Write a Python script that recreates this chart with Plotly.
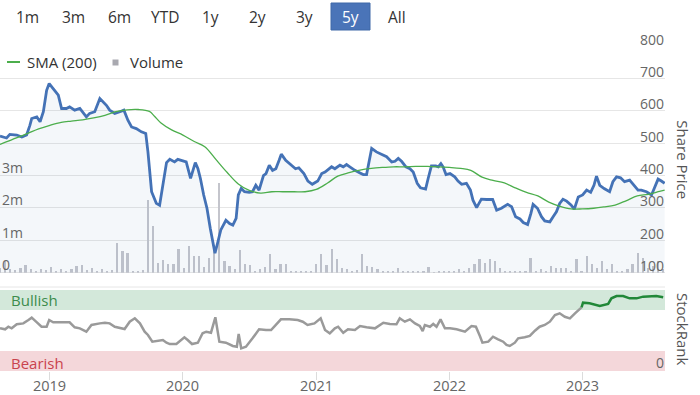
import plotly.graph_objects as go
import pandas as pd

# ---------------- DATA ----------------
price_dates = [
    "2018-08-17", "2018-09-04", "2018-09-13", "2018-10-02", "2018-10-16", "2018-10-29", "2018-11-07",
    "2018-11-12", "2018-11-26", "2018-12-05", "2018-12-14", "2018-12-23", "2018-12-30", "2019-01-10",
    "2019-01-24", "2019-02-02", "2019-02-15", "2019-02-24", "2019-03-10", "2019-03-24", "2019-04-02",
    "2019-04-11", "2019-04-20", "2019-05-04", "2019-05-18", "2019-05-27", "2019-06-05", "2019-06-14",
    "2019-06-28", "2019-07-12", "2019-07-23", "2019-08-03", "2019-08-13", "2019-08-26", "2019-09-09",
    "2019-09-21", "2019-09-27", "2019-10-07", "2019-10-20", "2019-10-29", "2019-11-07", "2019-11-17",
    "2019-11-26", "2019-12-09", "2019-12-18", "2020-01-01", "2020-01-10", "2020-01-22", "2020-01-28",
    "2020-02-04", "2020-02-11", "2020-02-18", "2020-02-27", "2020-03-07", "2020-03-16", "2020-03-29",
    "2020-04-05", "2020-04-14", "2020-04-28", "2020-05-08", "2020-05-17", "2020-05-26", "2020-06-01",
    "2020-06-09", "2020-06-18", "2020-07-01", "2020-07-10", "2020-07-19", "2020-07-28", "2020-08-09",
    "2020-08-16", "2020-08-25", "2020-09-03", "2020-09-12", "2020-09-21", "2020-09-27", "2020-10-09",
    "2020-10-23", "2020-11-05", "2020-11-14", "2020-11-28", "2020-12-09", "2020-12-21", "2021-01-05",
    "2021-01-16", "2021-01-25", "2021-02-03", "2021-02-12", "2021-02-21", "2021-03-07", "2021-03-16",
    "2021-03-25", "2021-04-03", "2021-04-17", "2021-05-01", "2021-05-10", "2021-05-19", "2021-06-02",
    "2021-06-15", "2021-06-29", "2021-07-13", "2021-07-27", "2021-08-05", "2021-08-14", "2021-08-23",
    "2021-09-04", "2021-09-15", "2021-09-24", "2021-10-05", "2021-10-14", "2021-10-28", "2021-11-04",
    "2021-11-13", "2021-11-25", "2021-12-02", "2021-12-09", "2021-12-15", "2021-12-23", "2022-01-03",
    "2022-01-16", "2022-01-25", "2022-02-04", "2022-02-17", "2022-02-28", "2022-03-07", "2022-03-17",
    "2022-03-30", "2022-04-13", "2022-04-30", "2022-05-11", "2022-05-24", "2022-06-10", "2022-06-21",
    "2022-07-02", "2022-07-14", "2022-07-23", "2022-08-04", "2022-08-13", "2022-08-19", "2022-08-31",
    "2022-09-11", "2022-09-20", "2022-10-04", "2022-10-13", "2022-10-22", "2022-10-31", "2022-11-09",
    "2022-11-19", "2022-12-01", "2022-12-10", "2022-12-21", "2023-01-02", "2023-01-13", "2023-01-24",
    "2023-02-02", "2023-02-09", "2023-02-18", "2023-03-02", "2023-03-11", "2023-03-17", "2023-03-26",
    "2023-04-05", "2023-04-16", "2023-04-27", "2023-05-11", "2023-05-23", "2023-06-03", "2023-06-12",
    "2023-06-26", "2023-07-10", "2023-07-19", "2023-07-28", "2023-08-06", "2023-08-15",
]
price_values = [
    522, 516, 527, 525, 519, 525, 555,
    576, 581, 566, 597, 663, 684, 669,
    648, 607, 607, 612, 602, 607, 592,
    581, 592, 597, 638, 627, 617, 602,
    592, 597, 602, 571, 550, 545, 535,
    530, 473, 350, 314, 308, 370, 440,
    450, 442, 450, 444, 442, 391, 411,
    440, 422, 391, 340, 299, 237, 160,
    191, 232, 262, 252, 247, 268, 340,
    360, 350, 348, 350, 370, 355, 400,
    406, 432, 416, 421, 447, 466, 447,
    434, 421, 424, 406, 383, 373, 383,
    406, 411, 420, 427, 421, 432, 427,
    434, 427, 416, 408, 403, 403, 484,
    473, 465, 458, 442, 444, 453, 444,
    427, 421, 411, 376, 362, 358, 391,
    430, 430, 427, 437, 427, 403, 406,
    396, 383, 373, 376, 355, 324, 301,
    327, 326, 326, 293, 299, 311, 304,
    273, 266, 255, 249, 283, 311, 299,
    273, 260, 257, 273, 288, 314, 327,
    321, 309, 296, 334, 340, 355, 348,
    370, 398, 370, 360, 355, 350, 381,
    396, 393, 381, 386, 370, 355, 355,
    350, 340, 365, 389, 383, 376,
]

sma_dates = [
    "2018-08-17", "2018-09-01", "2018-10-01", "2018-11-01", "2018-12-01", "2019-01-01", "2019-02-01",
    "2019-03-01", "2019-04-01", "2019-05-01", "2019-06-01", "2019-07-01", "2019-08-01", "2019-09-01",
    "2019-10-01", "2019-10-15", "2019-11-01", "2019-12-01", "2020-01-01", "2020-02-01", "2020-03-01",
    "2020-04-01", "2020-05-01", "2020-06-01", "2020-07-01", "2020-08-01", "2020-09-01", "2020-10-01",
    "2020-11-01", "2020-12-01", "2021-01-01", "2021-02-01", "2021-03-01", "2021-04-01", "2021-05-01",
    "2021-06-01", "2021-07-01", "2021-08-01", "2021-09-01", "2021-10-01", "2021-11-01", "2021-12-01",
    "2022-01-01", "2022-02-01", "2022-03-01", "2022-04-01", "2022-05-01", "2022-06-01", "2022-07-01",
    "2022-08-01", "2022-09-01", "2022-10-01", "2022-11-01", "2022-12-01", "2023-01-01", "2023-02-01",
    "2023-03-01", "2023-04-01", "2023-05-01", "2023-06-01", "2023-07-01", "2023-08-01", "2023-08-15",
]
sma_values = [
    496, 503, 516, 530, 544, 555, 564,
    568, 572, 578, 586, 597, 603, 604,
    598, 583, 563, 541, 525, 505, 489,
    449, 410, 374, 354, 346, 350, 350,
    350, 350, 357, 377, 398, 409, 417,
    422, 425, 427, 427, 428, 428, 427,
    425, 422, 416, 395, 385, 377, 362,
    348, 337, 318, 305, 297, 297, 299,
    303, 309, 322, 337, 342, 351, 355,
]

# volume in millions of shares, one bar per two-week period starting at volume_start
volume_start = "2018-08-17"
volume_values = [
    0.15, 0.36, 0.10, 0.08, 0.15, 0.23, 0.10, 0.06, 0.10, 0.08,
    0.18, 0.06, 0.12, 0.05, 0.10, 0.20, 0.24, 0.08, 0.15, 0.06,
    0.12, 0.05, 0.08, 0.93, 0.67, 0.62, 0.05, 0.06, 0.08, 2.24,
    1.44, 0.30, 0.38, 0.26, 0.26, 0.72, 0.15, 0.84, 0.51, 0.53,
    0.18, 0.46, 0.72, 2.78, 0.36, 0.20, 0.12, 0.70, 0.26, 0.23,
    0.05, 0.12, 0.18, 0.57, 0.10, 0.26, 0.26, 0.05, 0.05, 0.04,
    0.05, 0.05, 0.26, 0.57, 0.23, 0.72, 0.41, 0.13, 0.10, 0.05,
    0.07, 0.57, 0.20, 0.18, 0.10, 0.05, 0.03, 0.04, 0.15, 0.05,
    0.04, 0.05, 0.06, 0.05, 0.18, 0.02, 0.03, 0.04, 0.05, 0.03,
    0.10, 0.03, 0.15, 0.26, 0.41, 0.31, 0.41, 0.36, 0.15, 0.05,
    0.03, 0.03, 0.04, 0.03, 0.46, 0.03, 0.10, 0.05, 0.20, 0.15,
    0.15, 0.15, 0.05, 0.41, 0.05, 0.51, 0.26, 0.15, 0.36, 0.10,
    0.26, 0.05, 0.03, 0.10, 0.26, 0.62, 0.46, 0.15, 0.20, 0.36,
    0.10,
]

rank_dates = [
    "2018-08-17", "2018-08-31", "2018-09-09", "2018-09-18", "2018-10-02", "2018-10-20", "2018-11-03",
    "2018-11-12", "2018-11-24", "2018-12-09", "2018-12-23", "2018-12-30", "2019-01-10", "2019-01-28",
    "2019-02-24", "2019-03-10", "2019-03-24", "2019-04-11", "2019-04-25", "2019-05-18", "2019-06-01",
    "2019-06-14", "2019-06-28", "2019-07-25", "2019-08-08", "2019-08-22", "2019-09-05", "2019-09-18",
    "2019-09-27", "2019-10-09", "2019-10-25", "2019-11-07", "2019-11-17", "2019-11-26", "2019-12-14",
    "2019-12-28", "2020-01-05", "2020-01-14", "2020-01-26", "2020-02-11", "2020-02-24", "2020-03-05",
    "2020-03-18", "2020-03-30", "2020-04-10", "2020-04-28", "2020-05-17", "2020-05-28", "2020-06-02",
    "2020-06-09", "2020-06-22", "2020-07-10", "2020-07-28", "2020-08-16", "2020-08-30", "2020-09-12",
    "2020-09-26", "2020-10-19", "2020-11-11", "2020-11-25", "2020-12-08", "2020-12-27", "2021-01-13",
    "2021-01-25", "2021-02-07", "2021-02-21", "2021-03-02", "2021-03-16", "2021-03-29", "2021-04-17",
    "2021-05-01", "2021-05-19", "2021-06-11", "2021-07-04", "2021-07-22", "2021-08-09", "2021-08-18",
    "2021-09-01", "2021-09-15", "2021-09-29", "2021-10-12", "2021-10-20", "2021-10-26", "2021-11-09",
    "2021-11-18", "2021-11-27", "2021-12-08", "2021-12-20", "2022-01-03", "2022-01-21", "2022-02-13",
    "2022-03-03", "2022-03-15", "2022-03-26", "2022-04-02", "2022-04-18", "2022-05-01", "2022-05-15",
    "2022-05-29", "2022-06-07", "2022-06-16", "2022-06-30", "2022-07-09", "2022-07-27", "2022-08-10",
    "2022-08-24", "2022-09-06", "2022-09-20", "2022-10-04", "2022-10-18", "2022-10-31", "2022-11-14",
    "2022-11-28", "2022-12-12", "2022-12-21", "2022-12-30",
]
rank_values = [
    50.8, 49.6, 52.7, 50.8, 55.6, 56.7, 60.7,
    63.5, 58.7, 52.7, 52.7, 60.7, 58.0, 58.0,
    58.0, 52.0, 50.8, 46.8, 54.8, 56.7, 57.5,
    56.7, 52.7, 50.0, 58.7, 62.7, 56.7, 46.8,
    42.9, 34.9, 35.7, 36.9, 33.7, 32.1, 32.1,
    36.9, 40.1, 36.9, 32.1, 33.7, 44.9, 46.8,
    45.6, 63.9, 34.9, 33.7, 29.8, 28.9, 44.0,
    27.0, 28.9, 38.9, 49.6, 48.8, 48.8, 54.8,
    61.5, 61.5, 60.7, 58.7, 54.8, 56.7, 62.7,
    48.8, 44.9, 50.8, 52.7, 45.6, 49.6, 48.8,
    53.6, 52.0, 50.8, 57.5, 56.0, 55.6, 62.7,
    58.7, 61.5, 56.7, 53.6, 47.6, 54.8, 52.7,
    56.0, 52.7, 61.5, 50.8, 50.8, 49.6, 46.8,
    53.6, 52.7, 41.7, 33.7, 34.9, 40.8, 37.7,
    34.9, 31.0, 29.8, 33.7, 38.9, 40.1, 41.7,
    48.0, 52.7, 54.8, 58.7, 66.7, 68.7, 64.6,
    62.7, 68.7, 72.6, 75.8,
]
rank_bull_dates = [
    "2022-12-30", "2023-01-03", "2023-01-21", "2023-02-18", "2023-03-13", "2023-03-22", "2023-04-05",
    "2023-04-23", "2023-05-11", "2023-05-30", "2023-06-17", "2023-07-05", "2023-07-23", "2023-08-11",
]
rank_bull_values = [
    75.8, 81.3, 80.6, 77.4, 79.8, 86.5, 89.3,
    89.3, 86.5, 86.5, 88.5, 88.5, 89.3, 87.7,
]

bullish_band = [72.6, 96.4]
bearish_band = [0, 23.8]

year_ticks = ["2019-01-01", "2020-01-01", "2021-01-01", "2022-01-01", "2023-01-01"]
year_labels = ["2019", "2020", "2021", "2022", "2023"]
price_ticks = [100, 200, 300, 400, 500, 600, 700, 800]
volume_ticks = [0, 1, 2, 3]
volume_labels = ["0", "1m", "2m", "3m"]
range_buttons = ["1m", "3m", "6m", "YTD", "1y", "2y", "3y", "5y", "All"]
active_button = "5y"
x_range = ["2018-08-17", "2023-08-16"]

# ---------------- LAYOUT HELPERS ----------------
W, H = 700, 395
ML, MR, MT, MB = 0, 35, 46, 24
PW, PH = W - ML - MR, H - MT - MB


def px_x(p):
    return (p - ML) / PW


def px_y(p):
    return (H - MB - p) / PH


main_dom = [px_y(272.7), 1.0]
rank_dom = [0.0, px_y(287)]

FONT = "Open Sans, Noto Sans, sans-serif"
GRID = "#e6e6e6"
LABEL = "#666666"

volume_dates = pd.date_range(volume_start, periods=len(volume_values), freq="14D")

fig = go.Figure()

fig.add_trace(go.Bar(
    x=volume_dates, y=volume_values, width=6 * 86400000,
    marker=dict(color="#c4c5cc", line=dict(width=0)),
    xaxis="x", yaxis="y", showlegend=False,
))
fig.add_trace(go.Scatter(
    x=price_dates, y=price_values, mode="lines",
    line=dict(color="#4472b6", width=2.8),
    fill="tozeroy", fillcolor="rgba(69,114,167,0.06)",
    xaxis="x", yaxis="y2", showlegend=False,
))
fig.add_trace(go.Scatter(
    x=sma_dates, y=sma_values, mode="lines", line_shape="spline",
    line=dict(color="#4cae4c", width=1.3),
    xaxis="x", yaxis="y2", showlegend=False,
))
fig.add_trace(go.Scatter(
    x=rank_dates, y=rank_values, mode="lines",
    line=dict(color="#9a9a9a", width=2.5),
    xaxis="x2", yaxis="y3", showlegend=False,
))
fig.add_trace(go.Scatter(
    x=rank_bull_dates, y=rank_bull_values, mode="lines",
    line=dict(color="#218838", width=2.5),
    xaxis="x2", yaxis="y3", showlegend=False,
))

shapes = [
    dict(type="rect", xref="paper", yref="y3", x0=0, x1=1,
         y0=bullish_band[0], y1=bullish_band[1], fillcolor="#d3e8da", line_width=0, layer="below"),
    dict(type="rect", xref="paper", yref="y3", x0=0, x1=1,
         y0=bearish_band[0], y1=bearish_band[1], fillcolor="#f4d7da", line_width=0, layer="below"),
    dict(type="line", xref="paper", yref="paper", x0=0, x1=1, y0=rank_dom[1], y1=rank_dom[1],
         line=dict(color=GRID, width=1)),
    # legend symbols
    dict(type="line", xref="paper", yref="paper", x0=px_x(7), x1=px_x(20), y0=px_y(62), y1=px_y(62),
         line=dict(color="#4cae4c", width=2)),
    dict(type="rect", xref="paper", yref="paper", x0=px_x(112.5), x1=px_x(118.5),
         y0=px_y(65.5), y1=px_y(59.5), fillcolor="#a9a9b0", line_width=0),
    # active range button
    dict(type="rect", xref="paper", yref="paper", x0=px_x(331), x1=px_x(370),
         y0=px_y(30), y1=px_y(3), fillcolor="#4a74b8", line=dict(color="#3f68a8", width=1)),
]

annotations = []
for v in price_ticks:
    annotations.append(dict(x=1, xref="paper", y=v, yref="y2", xanchor="right", yanchor="middle",
                            yshift=7, xshift=1, text=str(v), showarrow=False,
                            font=dict(family=FONT, size=14, color=LABEL)))
for v, t in zip(volume_ticks, volume_labels):
    annotations.append(dict(x=0, xref="paper", y=v, yref="y", xanchor="left", yanchor="middle",
                            yshift=8, xshift=0, text=t, showarrow=False,
                            font=dict(family=FONT, size=14, color=LABEL)))
annotations.append(dict(x=1, xref="paper", y=0, yref="y3", xanchor="right", yanchor="middle",
                        yshift=9, xshift=1, text="0", showarrow=False,
                        font=dict(family=FONT, size=14, color=LABEL)))
for d, t in zip(year_ticks, year_labels):
    annotations.append(dict(x=d, xref="x2", y=px_y(385.5), yref="paper", xanchor="center",
                            yanchor="middle", text=t, showarrow=False, borderpad=0,
                            font=dict(family=FONT, size=14.5, color=LABEL)))
annotations.append(dict(x=1, xref="paper", y=(main_dom[0] + main_dom[1]) / 2, yref="paper",
                        xshift=18, xanchor="center", yanchor="middle", textangle=90,
                        text="Share Price", showarrow=False,
                        font=dict(family=FONT, size=15, color="#555555")))
annotations.append(dict(x=1, xref="paper", y=(rank_dom[0] + rank_dom[1]) / 2, yref="paper",
                        xshift=18, xanchor="center", yanchor="middle", textangle=90,
                        text="StockRank", showarrow=False,
                        font=dict(family=FONT, size=15, color="#555555")))
annotations.append(dict(x=0, xref="paper", y=sum(bullish_band) / 2, yref="y3", xanchor="left",
                        yanchor="middle", xshift=9, text="Bullish", showarrow=False,
                        font=dict(family=FONT, size=15, color="#3c8c4c")))
annotations.append(dict(x=0, xref="paper", y=sum(bearish_band) / 2, yref="y3", xanchor="left",
                        yanchor="middle", xshift=9, yshift=-2, text="Bearish", showarrow=False,
                        font=dict(family=FONT, size=15, color="#c9434d")))
# legend texts
annotations.append(dict(x=px_x(25), xref="paper", y=px_y(62), yref="paper", xanchor="left",
                        yanchor="middle", text="SMA (200)", showarrow=False,
                        font=dict(family=FONT, size=15, color="#333333")))
annotations.append(dict(x=px_x(128), xref="paper", y=px_y(62), yref="paper", xanchor="left",
                        yanchor="middle", text="Volume", showarrow=False,
                        font=dict(family=FONT, size=15, color="#333333")))
# range selector labels
button_centers = [27.5, 73, 119, 165, 210, 257, 304, 350.5, 397]
for lab, cx in zip(range_buttons, button_centers):
    annotations.append(dict(x=px_x(cx), xref="paper", y=px_y(17), yref="paper", xanchor="center",
                            yanchor="middle", text=lab, showarrow=False,
                            font=dict(family=FONT, size=15.5,
                                      color="#ffffff" if lab == active_button else "#333333")))

fig.update_layout(
    width=W, height=H, autosize=False,
    margin=dict(l=ML, r=MR, t=MT, b=MB, pad=0, autoexpand=False),
    paper_bgcolor="white", plot_bgcolor="white",
    font=dict(family=FONT, size=13, color=LABEL),
    showlegend=False, bargap=0,
    xaxis=dict(domain=[0, 1], anchor="y", range=x_range, showticklabels=False,
               showgrid=False, zeroline=False, ticks="", automargin=False),
    xaxis2=dict(domain=[0, 1], anchor="y3", matches="x", range=x_range,
                tickvals=year_ticks, showticklabels=False, ticks="outside", ticklen=8,
                tickcolor="#dcdcdc", showgrid=False, zeroline=False, showline=False,
                automargin=False),
    yaxis=dict(domain=main_dom, range=[0, 7], dtick=1, showticklabels=False,
               showgrid=True, gridcolor=GRID, gridwidth=1, zeroline=True,
               zerolinecolor=GRID, zerolinewidth=1, ticks="", automargin=False),
    yaxis2=dict(overlaying="y", side="right", range=[100, 800], showticklabels=False,
                showgrid=False, zeroline=False, ticks="", automargin=False),
    yaxis3=dict(domain=rank_dom, anchor="x2", range=[0, 100], showticklabels=False,
                showgrid=False, zeroline=False, ticks="", automargin=False),
    shapes=shapes, annotations=annotations,
)

fig.write_html(
    "out.html",
    config={"displayModeBar": False},
    post_script="document.body.style.margin='0';document.body.style.overflow='hidden';",
)
